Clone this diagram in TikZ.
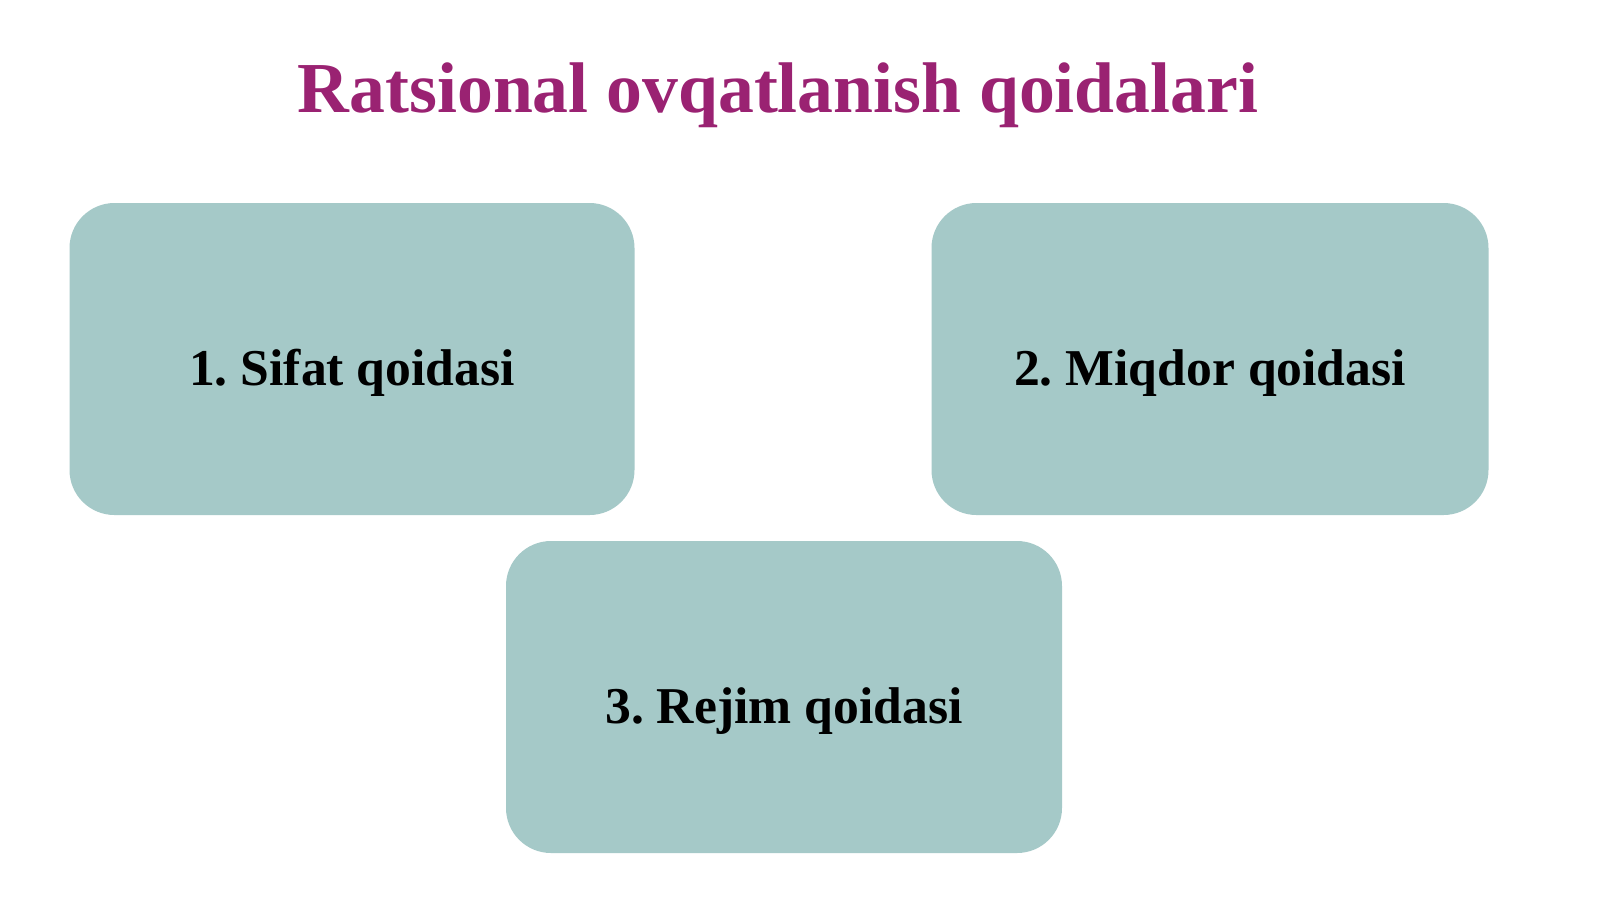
\documentclass[tikz,border=0pt]{standalone}
\usepackage{fontspec}
\setmainfont{Liberation Serif}
\frenchspacing
\definecolor{titlecol}{HTML}{9A2272}
\definecolor{boxcol}{HTML}{A5C9C8}
\tikzset{rulebox/.style={fill=boxcol,rounded corners=4.5mm,minimum width=#1,minimum height=31.2mm,
    text height=5.2mm,text depth=0pt,
    font=\fontsize{14.7}{18}\selectfont\bfseries,text=black}}
\begin{document}
\begin{tikzpicture}[x=0.1mm,y=-0.1mm]
    \useasboundingbox[fill=white] (0,0) rectangle (1600,899);
    \node[text=titlecol,font=\fontsize{20.4}{25}\selectfont\bfseries] (title) at (778,95)
          {Ratsional ovqatlanish qoidalari};

    \node[rulebox=56.5mm] (sifat) at (352,359) {1. Sifat qoidasi};
    \node[rulebox=55.7mm] (miqdor) at (1210,359) {2. Miqdor qoidasi};
    \node[rulebox=55.6mm] (rejim) at (784,697) {3. Rejim qoidasi};
\end{tikzpicture}
\end{document}
